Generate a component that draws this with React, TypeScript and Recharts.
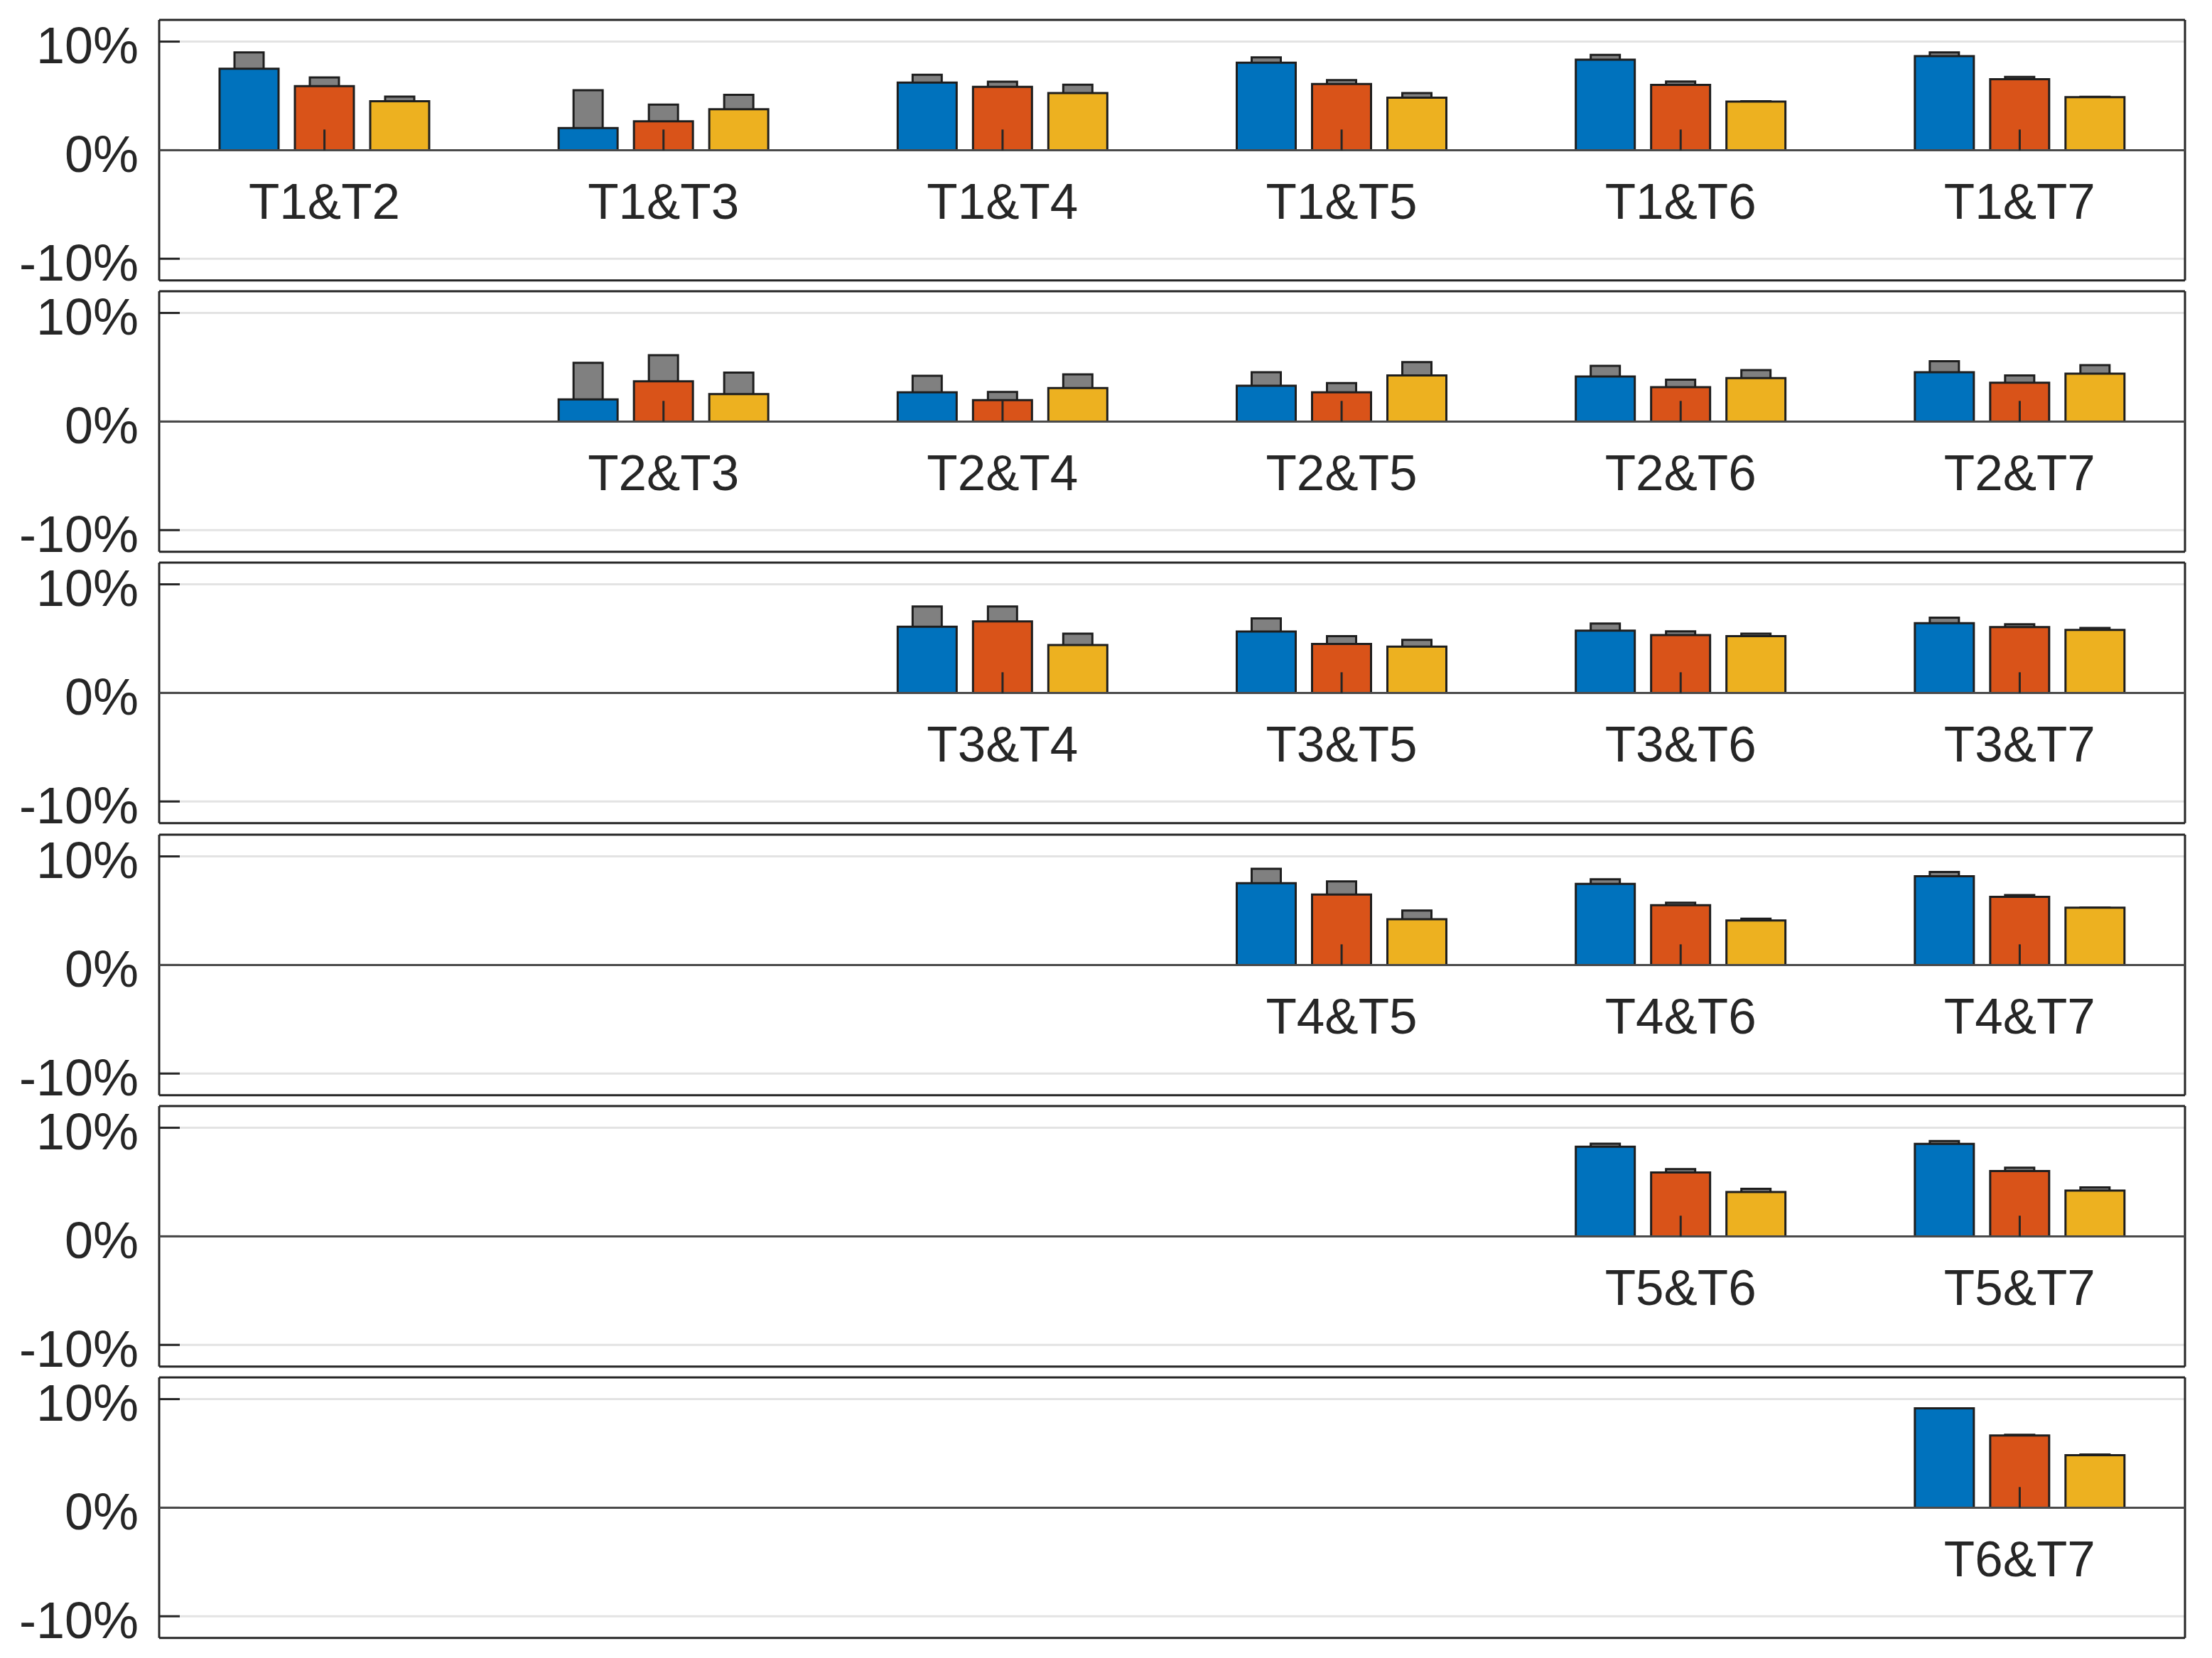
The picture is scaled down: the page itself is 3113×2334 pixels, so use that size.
import { BarChart, Bar, XAxis, YAxis, CartesianGrid, ReferenceLine, LabelList } from 'recharts'

const tests = ['T1', 'T2', 'T3', 'T4', 'T5', 'T6', 'T7']
const cols = ['T2', 'T3', 'T4', 'T5', 'T6', 'T7']
const yTicks = [-10, 0, 10]
const gridTicks = [-10, 10]

// values in %, one row per first test, null where the pair does not exist
const blueVals = [
  [7.5, 2.03, 6.22, 8.05, 8.33, 8.67],
  [null, 2.03, 2.69, 3.3, 4.15, 4.54],
  [null, null, 6.09, 5.65, 5.74, 6.43],
  [null, null, null, 7.53, 7.47, 8.17],
  [null, null, null, null, 8.26, 8.52],
  [null, null, null, null, null, 9.16],
]
const orangeVals = [
  [5.9, 2.66, 5.83, 6.09, 6.02, 6.53],
  [null, 3.71, 1.97, 2.69, 3.17, 3.58],
  [null, null, 6.59, 4.5, 5.33, 6.07],
  [null, null, null, 6.48, 5.5, 6.27],
  [null, null, null, null, 5.89, 6.02],
  [null, null, null, null, null, 6.65],
]
const yellowVals = [
  [4.5, 3.77, 5.26, 4.84, 4.47, 4.89],
  [null, 2.53, 3.08, 4.24, 4.0, 4.41],
  [null, null, 4.41, 4.26, 5.22, 5.8],
  [null, null, null, 4.21, 4.1, 5.28],
  [null, null, null, null, 4.09, 4.22],
  [null, null, null, null, null, 4.84],
]
// upper values drawn as the grey bars behind
const blueUpper = [
  [9.0, 5.52, 6.94, 8.55, 8.77, 9.0],
  [null, 5.41, 4.21, 4.54, 5.13, 5.55],
  [null, null, 7.96, 6.87, 6.39, 6.93],
  [null, null, null, 8.86, 7.9, 8.56],
  [null, null, null, null, 8.54, 8.78],
  [null, null, null, null, null, 9.16],
]
const orangeUpper = [
  [6.7, 4.19, 6.31, 6.46, 6.33, 6.75],
  [null, 6.11, 2.73, 3.54, 3.86, 4.24],
  [null, null, 7.96, 5.22, 5.67, 6.33],
  [null, null, null, 7.69, 5.74, 6.44],
  [null, null, null, null, 6.2, 6.33],
  [null, null, null, null, null, 6.72],
]
const yellowUpper = [
  [4.93, 5.1, 6.03, 5.26, 4.5, 4.92],
  [null, 4.5, 4.34, 5.48, 4.74, 5.2],
  [null, null, 5.46, 4.89, 5.46, 5.98],
  [null, null, null, 5.02, 4.26, 5.3],
  [null, null, null, null, 4.37, 4.5],
  [null, null, null, null, null, 4.9],
]

const W = 3113
const PLOT_LEFT = 224
const PLOT_RIGHT = 3075
const PLOT_H = 366.8
const PITCH = 382.3
const TOP0 = 27.6
const PAD = 45
const AXIS = '#262626'
const EDGE = '#1e1e1e'
const FONT = '"Liberation Sans", Arial, sans-serif'
const X_PAD = { left: -6, right: -6 }

function rowData(r: number) {
  return cols.map((c, i) => ({
    col: c,
    pair: blueVals[r][i] == null ? null : `${tests[r]}&${c}`,
    blue: blueVals[r][i],
    orange: orangeVals[r][i],
    yellow: yellowVals[r][i],
    blueHi: blueUpper[r][i],
    orangeHi: orangeUpper[r][i],
    yellowHi: yellowUpper[r][i],
  }))
}

function PairLabel(props: any) {
  const { value } = props
  if (!value) return null
  const vb = props.viewBox ?? props
  return (
    <text
      x={vb.x + vb.width / 2}
      y={vb.y + vb.height + 97}
      textAnchor="middle"
      fill={AXIS}
      fontSize={71}
      fontFamily={FONT}
    >
      {value}
    </text>
  )
}

function Panel({ row }: { row: number }) {
  const data = rowData(row)
  const h = PLOT_H + 2 * PAD
  const line = { stroke: AXIS, strokeWidth: 3 }
  return (
    <div style={{ position: 'absolute', left: 0, top: TOP0 + PITCH * row - PAD, width: W, height: h }}>
      {/* back: frame, grid, y axes and the grey upper bars */}
      <div style={{ position: 'absolute', left: 0, top: 0 }}>
        <BarChart
          width={W}
          height={h}
          data={data}
          margin={{ top: PAD - 1, bottom: PAD - 1, left: PLOT_LEFT - 200, right: W - PLOT_RIGHT - 1 }}
          barGap={65}
          barCategoryGap={0}
        >
          <CartesianGrid vertical={false} horizontalValues={gridTicks} stroke="#e3e3e3" strokeWidth={3} />
          <XAxis dataKey="col" padding={X_PAD} tick={false} tickLine={false} height={1} axisLine={line} />
          <XAxis xAxisId="top" orientation="top" dataKey="col" tick={false} tickLine={false} height={1} axisLine={line} />
          <YAxis
            domain={[-12, 12]}
            ticks={yTicks}
            interval={0}
            width={200}
            tickSize={-29}
            tickMargin={58}
            tickFormatter={(v) => `${v}%`}
            tick={{ fill: AXIS, fontSize: 72, fontFamily: FONT, dy: 5 }}
            tickLine={line}
            axisLine={line}
          />
          <YAxis
            yAxisId="r"
            orientation="right"
            domain={[-12, 12]}
            ticks={yTicks}
            interval={0}
            width={1}
            tickSize={-29}
            tick={false}
            tickLine={line}
            axisLine={line}
          />
          <Bar dataKey="blueHi" barSize={41} fill="#808080" stroke={EDGE} strokeWidth={3} isAnimationActive={false} />
          <Bar dataKey="orangeHi" barSize={41} fill="#808080" stroke={EDGE} strokeWidth={3} isAnimationActive={false} />
          <Bar dataKey="yellowHi" barSize={41} fill="#808080" stroke={EDGE} strokeWidth={3} isAnimationActive={false} />
        </BarChart>
      </div>
      {/* front: coloured bars, zero line, category ticks and labels */}
      <div style={{ position: 'absolute', left: 0, top: 0 }}>
        <BarChart
          width={W}
          height={h}
          data={data}
          margin={{ top: PAD, bottom: PAD, left: PLOT_LEFT, right: W - PLOT_RIGHT }}
          barGap={23}
          barCategoryGap={0}
        >
          <XAxis dataKey="col" padding={X_PAD} hide />
          <YAxis domain={[-12, 12]} hide />
          <Bar dataKey="blue" barSize={83} fill="#0072BD" stroke={EDGE} strokeWidth={3} isAnimationActive={false} />
          <Bar dataKey="orange" barSize={83} fill="#D95319" stroke={EDGE} strokeWidth={3} isAnimationActive={false}>
            <LabelList dataKey="pair" content={PairLabel} />
          </Bar>
          <Bar dataKey="yellow" barSize={83} fill="#EDB120" stroke={EDGE} strokeWidth={3} isAnimationActive={false} />
          <ReferenceLine y={0} stroke="#4a4a4a" strokeWidth={3} />
          {data
            .filter((d) => d.pair)
            .map((d) => (
              <ReferenceLine
                key={d.col}
                segment={[
                  { x: d.col, y: 0 },
                  { x: d.col, y: 1.9 },
                ]}
                stroke={AXIS}
                strokeWidth={3}
              />
            ))}
        </BarChart>
      </div>
    </div>
  )
}

export default function App() {
  return (
    <div style={{ position: 'absolute', left: 0, top: 0, width: W, height: 2334, background: '#fff' }}>
      {tests.slice(0, 6).map((t, r) => (
        <Panel key={t} row={r} />
      ))}
    </div>
  )
}
